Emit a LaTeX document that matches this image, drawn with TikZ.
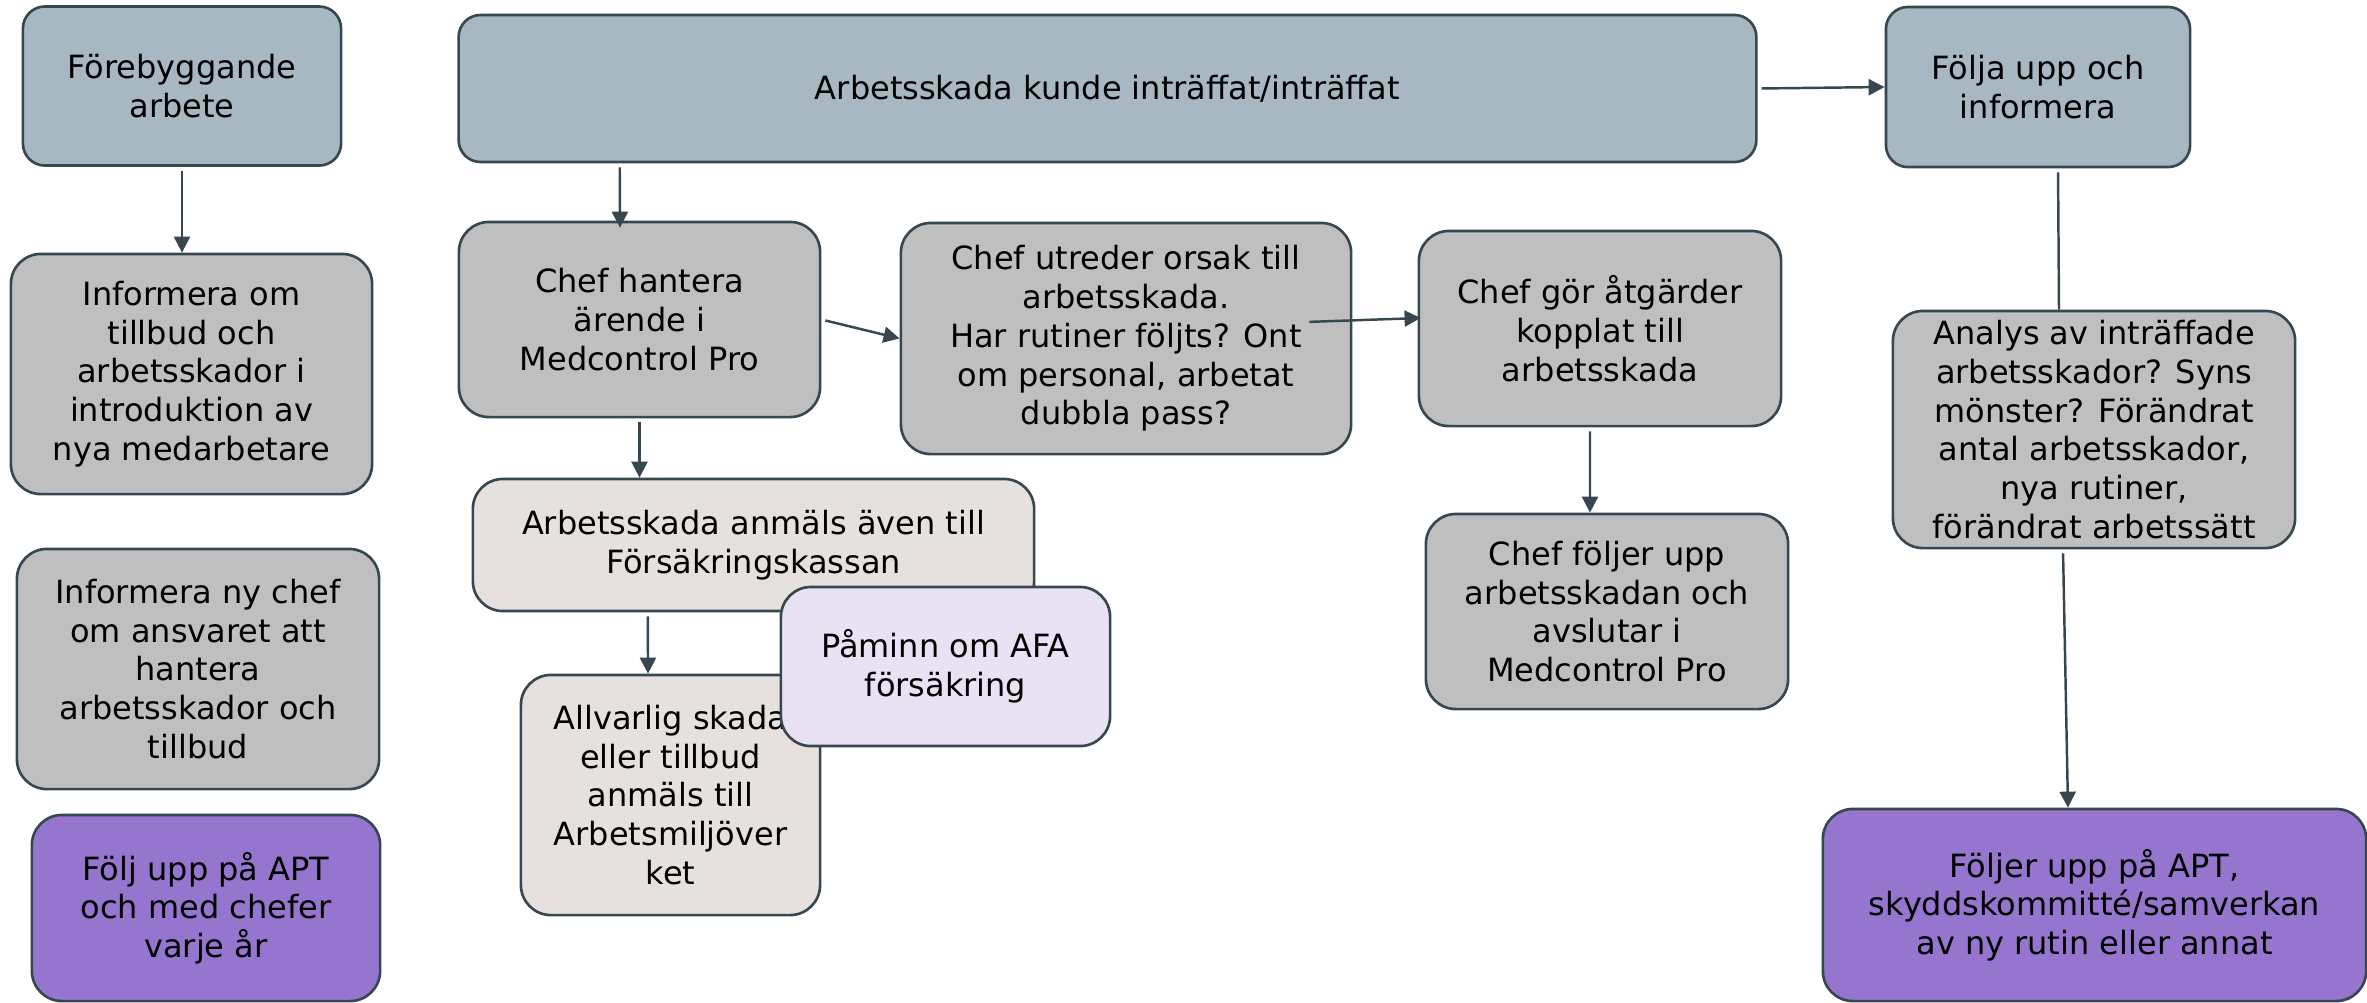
\documentclass[tikz,border=0pt]{standalone}
\usepackage{fontspec}
\setmainfont{DejaVu Sans}
\usetikzlibrary{arrows.meta}

\definecolor{headblue}{HTML}{A7B8C2}
\definecolor{taskgrey}{HTML}{BFBFBF}
\definecolor{reportbeige}{HTML}{E6E1DE}
\definecolor{notelilac}{HTML}{E8E2F4}
\definecolor{followpurple}{HTML}{9575CD}
\definecolor{slate}{HTML}{37474F}

\begin{document}
\begin{tikzpicture} [x=0.01cm, y=-0.01cm,
            box/.style = {draw=slate, line width=0.75pt, rounded corners=0.3cm,
                align=center, inner sep=0pt, font=\fontsize{9.1}{11}\selectfont},
            head/.style = {box, fill=headblue, rounded corners=0.22cm},
            task/.style = {box, fill=taskgrey},
            report/.style = {box, fill=reportbeige},
            note/.style = {box, fill=notelilac},
            followup/.style = {box, fill=followpurple},
            link/.style = {color=slate, line width=0.7pt, shorten <=0.04cm,
                -{Triangle[length=0.16cm, width=0.16cm]}}]

        \useasboundingbox (0,0) rectangle (2367,1002);

        % Preventive work
        \node (fore) [head,
            minimum width=3.18cm, minimum height=1.59cm] at (182,86) {Förebyggande\\arbete};

        % Inform about incidents
        \node (infoom) [task,
            minimum width=3.61cm, minimum height=2.40cm] at (191.5,374)
            {Informera om\\tillbud och\\arbetsskador i\\introduktion av\\nya medarbetare};

        % Inform new manager
        \node (infochef) [task,
            minimum width=3.62cm, minimum height=2.40cm] at (198,669)
            {Informera ny chef\\om ansvaret att\\hantera\\arbetsskador och\\tillbud};

        % Yearly follow up
        \node (foljapt) [followup,
            minimum width=3.48cm, minimum height=1.86cm] at (206,908)
            {Följ upp på APT\\och med chefer\\varje år};

        % Incident
        \node (top) [head,
            minimum width=12.97cm, minimum height=1.47cm] at (1107.5,88.5)
            {Arbetsskada kunde inträffat/inträffat};

        % Manager handles case
        \node (hantera) [task,
            minimum width=3.61cm, minimum height=1.95cm] at (639.5,319.5)
            {Chef hantera\\ärende i\\Medcontrol Pro};

        % Manager investigates
        \node (utreder) [task,
            minimum width=4.50cm, minimum height=2.31cm] at (1126,338.5)
            {Chef utreder orsak till\\arbetsskada.\\Har rutiner följts? Ont\\om personal, arbetat\\dubbla pass?};

        % Manager acts
        \node (gor) [task,
            minimum width=3.62cm, minimum height=1.95cm] at (1600,328.5)
            {Chef gör åtgärder\\kopplat till\\arbetsskada};

        % Manager closes case
        \node (foljer) [task,
            minimum width=3.62cm, minimum height=1.95cm] at (1607,611.5)
            {Chef följer upp\\arbetsskadan och\\avslutar i\\Medcontrol Pro};

        % Report to insurance
        \node (forsak) [report,
            minimum width=5.61cm, minimum height=1.32cm] at (753.5,545)
            {Arbetsskada anmäls även till\\Försäkringskassan};

        % Serious injury report
        \node (allvarlig) [report,
            minimum width=2.99cm, minimum height=2.40cm] at (670.5,795)
            {Allvarlig skada\\eller tillbud\\anmäls till\\Arbetsmiljöver\\ket};

        % AFA reminder
        \node (afa) [note,
            minimum width=3.29cm, minimum height=1.59cm] at (945.5,666.5)
            {Påminn om AFA\\försäkring};

        % Follow up and inform
        \node (folja) [head,
            minimum width=3.04cm, minimum height=1.60cm] at (2038,87)
            {Följa upp och\\informera};

        % Analysis
        \node (analys) [task,
            minimum width=4.02cm, minimum height=2.37cm] at (2094,429.5)
            {Analys av inträffade\\arbetsskador? Syns\\mönster? Förändrat\\antal arbetsskador,\\nya rutiner,\\förändrat arbetssätt};

        % Follow up in committees
        \node (foljapt2) [followup,
            minimum width=5.43cm, minimum height=1.92cm] at (2094.5,905)
            {Följer upp på APT,\\skyddskommitté/samverkan\\av ny rutin eller annat};

        % Arrows
        \path [link]
            (fore.south) edge (fore.south |- infoom.north)
            ([xshift=-4.875cm]top.south) edge ([xshift=-0.195cm, yshift=-0.07cm]hantera.north)
            (top.east) edge (folja.west)
            (hantera.east) edge (utreder.west)
            ([xshift=-0.47cm, yshift=0.165cm]utreder.east) edge ([xshift=0.03cm, yshift=0.105cm]gor.west)
            (hantera.south) edge (hantera.south |- forsak.north)
            ([xshift=-1.055cm]forsak.south) edge ([xshift=-0.225cm]allvarlig.north)
            ([xshift=-0.1cm]gor.south) edge ([xshift=-0.17cm]foljer.north)
            ([xshift=0.2cm]folja.south) edge [-] ([xshift=-0.35cm]analys.north)
            ([xshift=-0.31cm]analys.south) edge ([xshift=-0.265cm]foljapt2.north);
        \end{tikzpicture}
\end{document}
